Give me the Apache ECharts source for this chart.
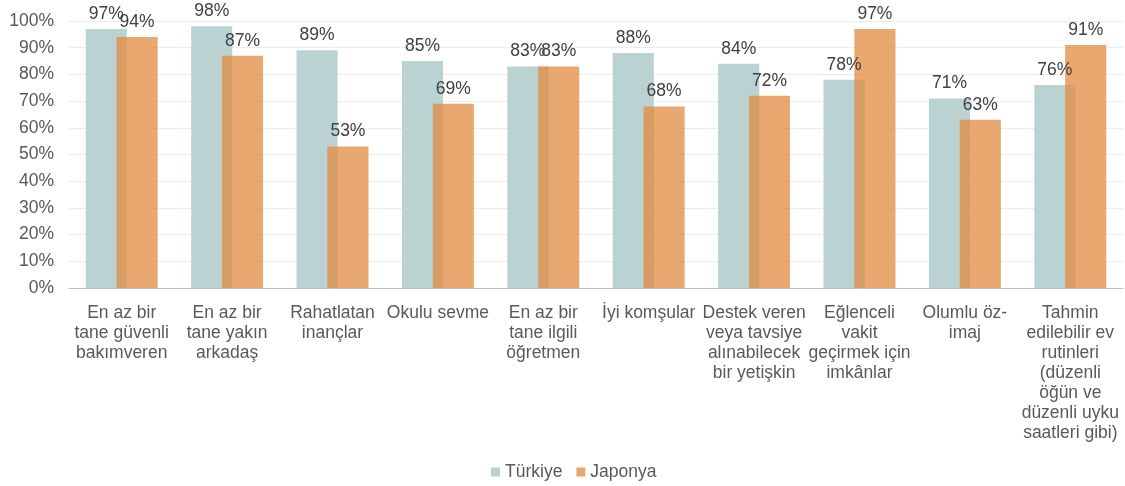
<!DOCTYPE html>
<html>
<head>
<meta charset="utf-8">
<script src="https://cdn.jsdelivr.net/npm/echarts@6/dist/echarts.min.js"></script>
<style>
  html, body { margin: 0; padding: 0; background: #fff; }
  #chart { width: 1125px; height: 486px; }
</style>
</head>
<body>
<div id="chart"></div>
<script>
// kategoriler (etiketler elle satırlara bölündü)
const categories = [
    'En az bir\ntane güvenli\nbakımveren',
    'En az bir\ntane yakın\narkadaş',
    'Rahatlatan\ninançlar',
    'Okulu sevme',
    'En az bir\ntane ilgili\nöğretmen',
    'İyi komşular',
    'Destek veren\nveya tavsiye\nalınabilecek\nbir yetişkin',
    'Eğlenceli\nvakit\ngeçirmek için\nimkânlar',
    'Olumlu öz-\nimaj',
    'Tahmin\nedilebilir ev\nrutinleri\n(düzenli\nöğün ve\ndüzenli uyku\nsaatleri gibi)'
];
const turkiye = [97, 98, 89, 85, 83, 88, 84, 78, 71, 76];
const japonya = [94, 87, 53, 69, 83, 68, 72, 97, 63, 91];
const yTicks = [0, 10, 20, 30, 40, 50, 60, 70, 80, 90, 100];

const font = 'Liberation Sans, Arial, sans-serif';

let myChart = echarts.init(document.getElementById('chart'));

let labelStyle = {
    show: true,
    position: 'top',
    distance: 6,
    formatter: '{c}%',
    color: '#404040',
    fontSize: 17.5,
    fontFamily: font
};

let option = {
    animation: false,
    grid: {
        left: 69,
        right: 2,
        top: 21,
        bottom: 198
    },
    legend: {
        bottom: 0,
        left: 486,
        itemWidth: 9,
        itemHeight: 9,
        itemGap: 14,
        icon: 'rect',
        textStyle: { color: '#595959', fontSize: 17.5, fontFamily: font },
        data: ['Türkiye', 'Japonya']
    },
    xAxis: {
        type: 'category',
        data: categories,
        axisTick: { show: false },
        axisLine: { lineStyle: { color: '#bfbfbf', width: 1 } },
        axisLabel: {
            interval: 0,
            margin: 15,
            color: '#595959',
            fontSize: 17.5,
            lineHeight: 20,
            fontFamily: font,
            align: 'center'
        }
    },
    yAxis: {
        type: 'value',
        min: yTicks[0],
        max: yTicks[yTicks.length - 1],
        interval: 10,
        axisLine: { show: false },
        axisTick: { show: false },
        splitLine: { lineStyle: { color: '#ececec', width: 1 } },
        axisLabel: {
            formatter: '{value}%',
            margin: 15,
            color: '#595959',
            fontSize: 17.5,
            fontFamily: font
        }
    },
    series: [
        {
            name: 'Türkiye',
            type: 'bar',
            data: turkiye,
            barWidth: '39%',
            barGap: '-25%',
            itemStyle: { color: '#bad3d2' },
            label: labelStyle
        },
        {
            name: 'Japonya',
            type: 'bar',
            data: japonya,
            barWidth: '39%',
            itemStyle: { color: 'rgba(224,139,64,0.75)' },
            label: labelStyle
        }
    ]
};
option && myChart.setOption(option);
</script>
</body>
</html>
